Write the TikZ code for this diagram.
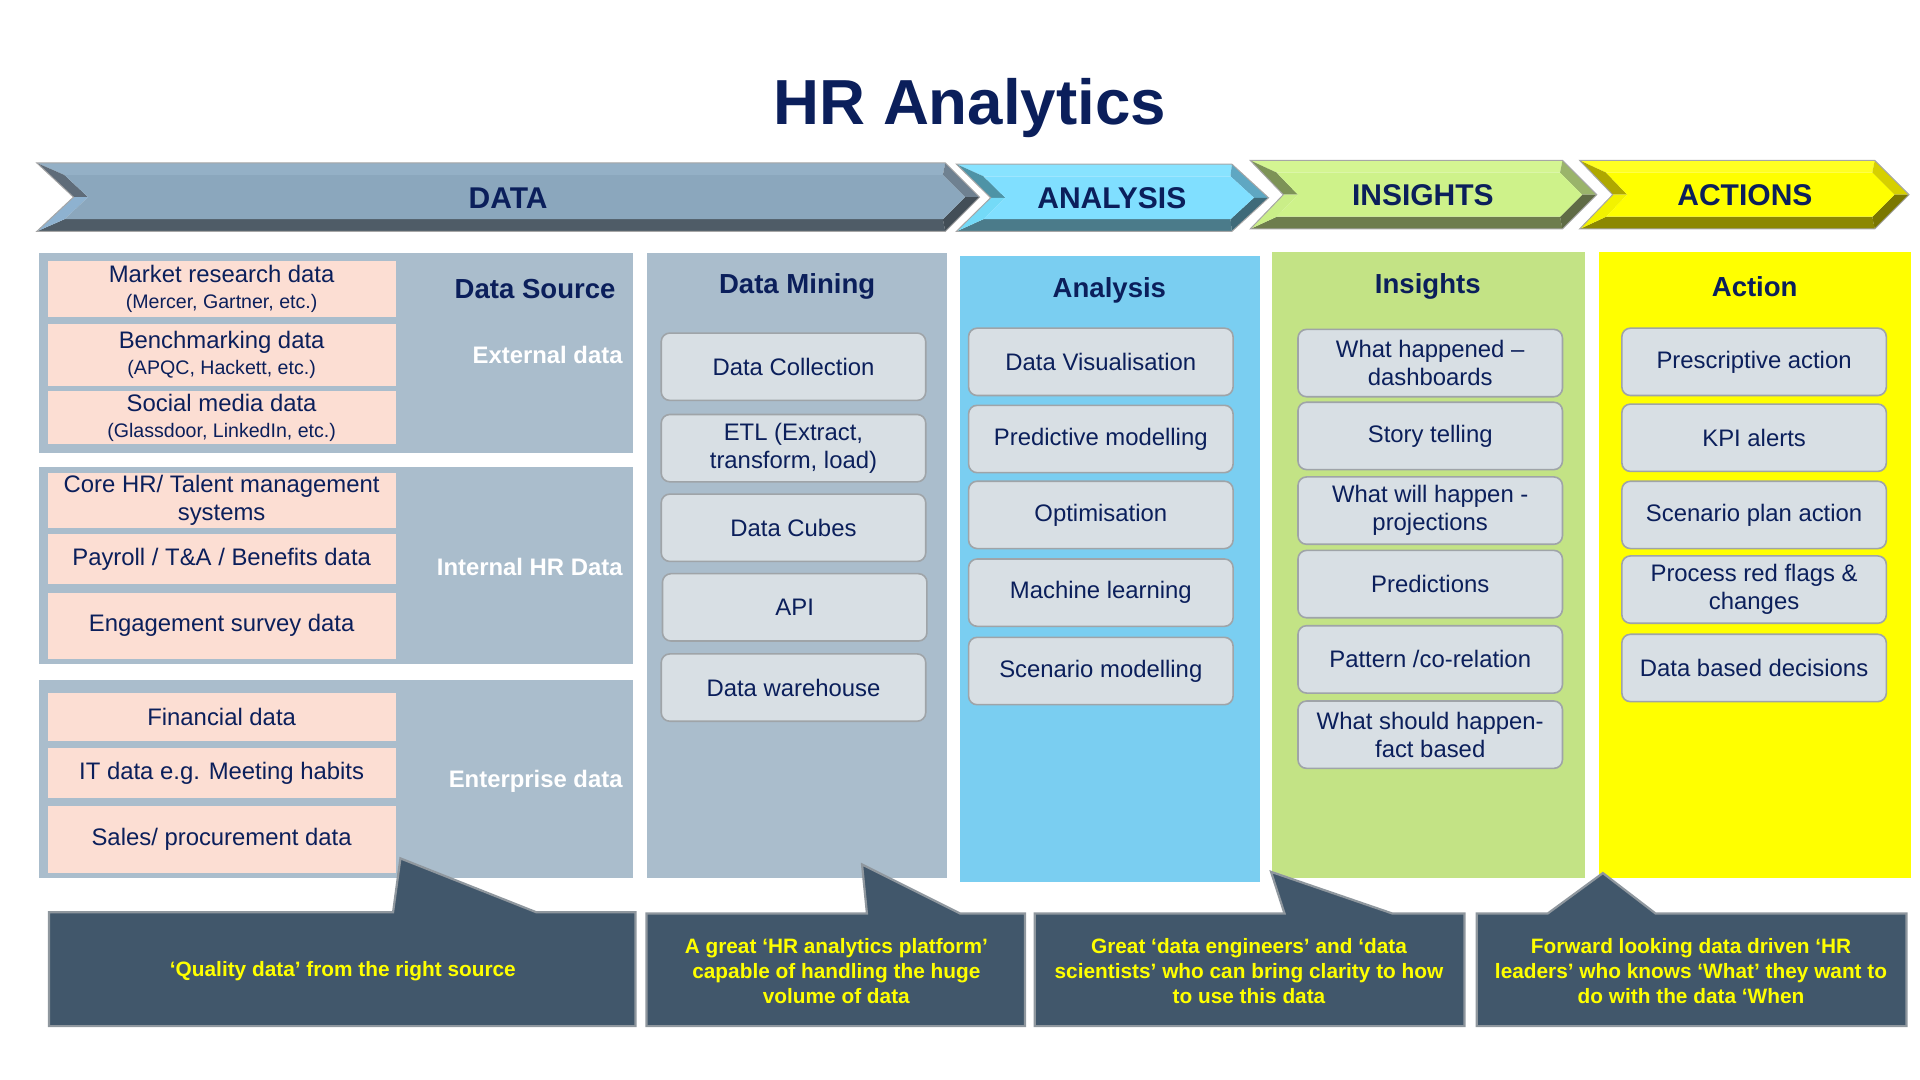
\documentclass[tikz,border=0pt]{standalone}
\usepackage{fontspec}
\setmainfont{Liberation Sans}
\usetikzlibrary{positioning}

\definecolor{hrnavy}{HTML}{0B1F5B}
\definecolor{hrpanel}{HTML}{AABDCC}
\definecolor{hrpink}{HTML}{FCDED3}
\definecolor{hrsky}{HTML}{7ACEF1}
\definecolor{hrlime}{HTML}{C3E385}
\definecolor{hryellow}{HTML}{FFFF00}
\definecolor{hrbox}{HTML}{D8DFE4}
\definecolor{hrbord}{HTML}{9FA4A8}
\definecolor{hrslate}{HTML}{41576B}
\definecolor{hrcallbord}{HTML}{8F979E}
% ribbon colours
\definecolor{dataface}{HTML}{8BA7BD}\definecolor{datatop}{HTML}{94B0C6}\definecolor{databot}{HTML}{4F5C67}
\definecolor{datanw}{HTML}{5F6C79}\definecolor{datasw}{HTML}{8EB2D0}\definecolor{datane}{HTML}{6F8191}\definecolor{datase}{HTML}{434E57}
\definecolor{anaface}{HTML}{80DFFF}\definecolor{anatop}{HTML}{88E3FF}\definecolor{anabot}{HTML}{4B7B8A}
\definecolor{ananw}{HTML}{4E93A6}\definecolor{anasw}{HTML}{74DAF7}\definecolor{anane}{HTML}{5FA7C2}\definecolor{anase}{HTML}{3F6A79}
\definecolor{insface}{HTML}{CEF28A}\definecolor{instop}{HTML}{D4F592}\definecolor{insbot}{HTML}{6E7D4D}
\definecolor{insnw}{HTML}{7D9357}\definecolor{inssw}{HTML}{CAEE88}\definecolor{insne}{HTML}{9AB46B}\definecolor{insse}{HTML}{5F6B45}
\definecolor{actface}{HTML}{FFFF00}\definecolor{acttop}{HTML}{FFFF22}\definecolor{actbot}{HTML}{8C8800}
\definecolor{actnw}{HTML}{AFA800}\definecolor{actsw}{HTML}{F2F200}\definecolor{actne}{HTML}{D6D000}\definecolor{actse}{HTML}{7B7700}

\tikzset{
  panel/.style={fill=#1, draw=none, inner sep=0pt},
  srcbox/.style={fill=hrpink, text=hrnavy, inner sep=0pt, minimum width=284pt, align=center,
    font=\fontsize{19.5}{21}\selectfont},
  itembox/.style={draw=hrbord, line width=1.3pt, fill=hrbox, rounded corners=7pt, minimum width=216pt,
    minimum height=55pt, inner sep=0pt, align=center, text=hrnavy, font=\fontsize{19.5}{23}\selectfont},
  coltitle/.style={font=\bfseries\fontsize{22.5}{26}\selectfont, text=hrnavy},
  sidelabel/.style={anchor=east, font=\bfseries\fontsize{19.5}{23}\selectfont, text=white},
  ribbonlabel/.style={font=\bfseries\fontsize{24.5}{28}\selectfont, text=hrnavy},
  callout/.style={fill=hrslate, draw=hrcallbord, line width=1.8pt, line join=miter},
  calltext/.style={text=hryellow, align=center, font=\bfseries\fontsize{17}{20.5}\selectfont},
}

% #1 colour prefix, #2 left, #3 notch, #4 corner, #5 tip, #6 top, #7 bottom
\newcommand{\hrchevron}[7]{%
  \pgfmathsetmacro{\ym}{(#6+#7)/2}%
  \pgfmathsetmacro{\yt}{#6+10}%
  \pgfmathsetmacro{\yb}{#7-10}%
  \pgfmathsetmacro{\xl}{#2+(#3-#2)*10/(\ym-#6)+12}%
  \pgfmathsetmacro{\xn}{#3+12}%
  \pgfmathsetmacro{\xr}{#4+(#5-#4)*10/(\ym-#6)-12}%
  \pgfmathsetmacro{\xt}{#5-12}%
  \fill[#1top] (#2,#6) -- (#4,#6) -- (\xr,\yt) -- (\xl,\yt) -- cycle;
  \fill[#1bot] (#2,#7) -- (#4,#7) -- (\xr,\yb) -- (\xl,\yb) -- cycle;
  \fill[#1nw] (#2,#6) -- (\xl,\yt) -- (\xn,\ym) -- (#3,\ym) -- cycle;
  \fill[#1sw] (#3,\ym) -- (\xn,\ym) -- (\xl,\yb) -- (#2,#7) -- cycle;
  \fill[#1ne] (#4,#6) -- (#5,\ym) -- (\xt,\ym) -- (\xr,\yt) -- cycle;
  \fill[#1se] (#5,\ym) -- (#4,#7) -- (\xr,\yb) -- (\xt,\ym) -- cycle;
  \fill[#1face] (\xl,\yt) -- (\xr,\yt) -- (\xt,\ym) -- (\xr,\yb) -- (\xl,\yb) -- (\xn,\ym) -- cycle;
  \draw[black!35, line width=0.8pt, line join=miter] (#2,#6) -- (#4,#6) -- (#5,\ym) -- (#4,#7) -- (#2,#7) -- (#3,\ym) -- cycle;
}

\begin{document}
\begin{tikzpicture}[x=1pt, y=-1pt]
\useasboundingbox (0,0) rectangle (1568,882);

\node[font=\bfseries\fontsize{52}{62}\selectfont, text=hrnavy] (title) at (792,88) {HR Analytics};

% ribbon
\hrchevron{data}{30}{60}{772}{800}{133}{189}
\hrchevron{ana}{781}{809}{1006}{1036}{134}{189}
\hrchevron{ins}{1021}{1048}{1276}{1304}{131}{187}
\hrchevron{act}{1290}{1317}{1531}{1559}{131}{187}
\node[ribbonlabel] (rdata) at (415,162) {DATA};
\node[ribbonlabel] (rana) at (908,162) {ANALYSIS};
\node[ribbonlabel] (rins) at (1162,159) {INSIGHTS};
\node[ribbonlabel] (ract) at (1425,159) {ACTIONS};

% data source
\node[panel=hrpanel, minimum width=485pt, minimum height=163pt] (ext) at (274.5,288.5) {};
\node[panel=hrpanel, minimum width=485pt, minimum height=161pt] (int) at (274.5,461.5) {};
\node[panel=hrpanel, minimum width=485pt, minimum height=162pt] (ent) at (274.5,636) {};
\node[srcbox, minimum height=46pt] (mr) at (181,236) {Market research data\\{\fontsize{16}{18}\selectfont (Mercer, Gartner, etc.)}};
\node[srcbox, minimum height=50pt] (bm) at (181,290) {Benchmarking data\\{\fontsize{16}{18}\selectfont (APQC, Hackett, etc.)}};
\node[srcbox, minimum height=44pt] (sm) at (181,341) {Social media data\\{\fontsize{16}{18}\selectfont (Glassdoor, LinkedIn, etc.)}};
\node[srcbox, minimum height=45pt, font=\fontsize{19.5}{23}\selectfont] (core) at (181,408.5) {Core HR/ Talent management\\systems};
\node[srcbox, minimum height=41pt] (pay) at (181,456.5) {Payroll / T\&A / Benefits data};
\node[srcbox, minimum height=54pt] (eng) at (181,511) {Engagement survey data};
\node[srcbox, minimum height=39pt] (fin) at (181,585.5) {Financial data};
\node[srcbox, minimum height=41pt] (itd) at (181,631.5) {IT data e.g. Meeting habits};
\node[srcbox, minimum height=55pt] (sales) at (181,685.5) {Sales/ procurement data};
\node[coltitle] (srctitle) at (437,236) {Data Source};
\node[sidelabel] (extlabel) at (512,290) {External data};
\node[sidelabel] (intlabel) at (512,463) {Internal HR Data};
\node[sidelabel] (entlabel) at (512,638) {Enterprise data};

% data mining
\node[panel=hrpanel, minimum width=245pt, minimum height=510pt] (mining) at (650.5,462) {};
\node[coltitle] (mintitle) at (651,234) {Data Mining};
\node[itembox] (coll) at (648,299.5) {Data Collection};
\node[itembox] (etl) at (648,366) {ETL (Extract,\\transform, load)};
\node[itembox] (cubes) at (648,431) {Data Cubes};
\node[itembox] (api) at (649,496) {API};
\node[itembox] (wh) at (648,561.5) {Data warehouse};

% analysis
\node[panel=hrsky, minimum width=245pt, minimum height=511pt] (analysis) at (906.5,464.5) {};
\node[coltitle] (anatitle) at (906,237) {Analysis};
\node[itembox] (vis) at (899,295.5) {Data Visualisation};
\node[itembox] (pred) at (899,358.5) {Predictive modelling};
\node[itembox] (opt) at (899,420.5) {Optimisation};
\node[itembox] (ml) at (899,484) {Machine learning};
\node[itembox] (scen) at (899,548) {Scenario modelling};

% insights
\node[panel=hrlime, minimum width=255pt, minimum height=511pt] (insights) at (1166.5,461.5) {};
\node[coltitle] (institle) at (1166,234) {Insights};
\node[itembox] (happened) at (1168,296.5) {What happened --\\dashboards};
\node[itembox] (story) at (1168,356) {Story telling};
\node[itembox] (will) at (1168,417) {What will happen -\\projections};
\node[itembox] (predictions) at (1168,477) {Predictions};
\node[itembox] (pattern) at (1168,538.5) {Pattern /co-relation};
\node[itembox] (should) at (1168,600) {What should happen-\\fact based};

% action
\node[panel=hryellow, minimum width=255pt, minimum height=511pt] (action) at (1433.5,461.5) {};
\node[coltitle] (acttitle) at (1433,234) {Action};
\node[itembox] (presc) at (1432.5,295.5) {Prescriptive action};
\node[itembox] (kpi) at (1432.5,357.5) {KPI alerts};
\node[itembox] (plan) at (1432.5,420.5) {Scenario plan action};
\node[itembox] (flags) at (1432.5,481.5) {Process red flags \&\\changes};
\node[itembox] (decisions) at (1432.5,545.5) {Data based decisions};

% callouts
\draw[callout] (40,745) -- (321,745) -- (327,701) -- (438,745) -- (519,745) -- (519,838) -- (40,838) -- cycle;
\draw[callout] (528,746) -- (708,746) -- (704,706) -- (784,746) -- (837,746) -- (837,838) -- (528,838) -- cycle;
\draw[callout] (845,746) -- (1049,746) -- (1038,712) -- (1137,746) -- (1196,746) -- (1196,838) -- (845,838) -- cycle;
\draw[callout] (1206,746) -- (1264,746) -- (1309,713) -- (1352,746) -- (1557,746) -- (1557,838) -- (1206,838) -- cycle;
\node[calltext] (q1) at (280,793) {‘Quality data’ from the right source};
\node[calltext] (q2) at (683,793) {A great ‘HR analytics platform’\\capable of handling the huge\\volume of data};
\node[calltext] (q3) at (1020,793) {Great ‘data engineers’ and ‘data\\scientists’ who can bring clarity to how\\to use this data};
\node[calltext] (q4) at (1381,793) {Forward looking data driven ‘HR\\leaders’ who  knows ‘What’ they want to\\do with the data ‘When};
\end{tikzpicture}
\end{document}
